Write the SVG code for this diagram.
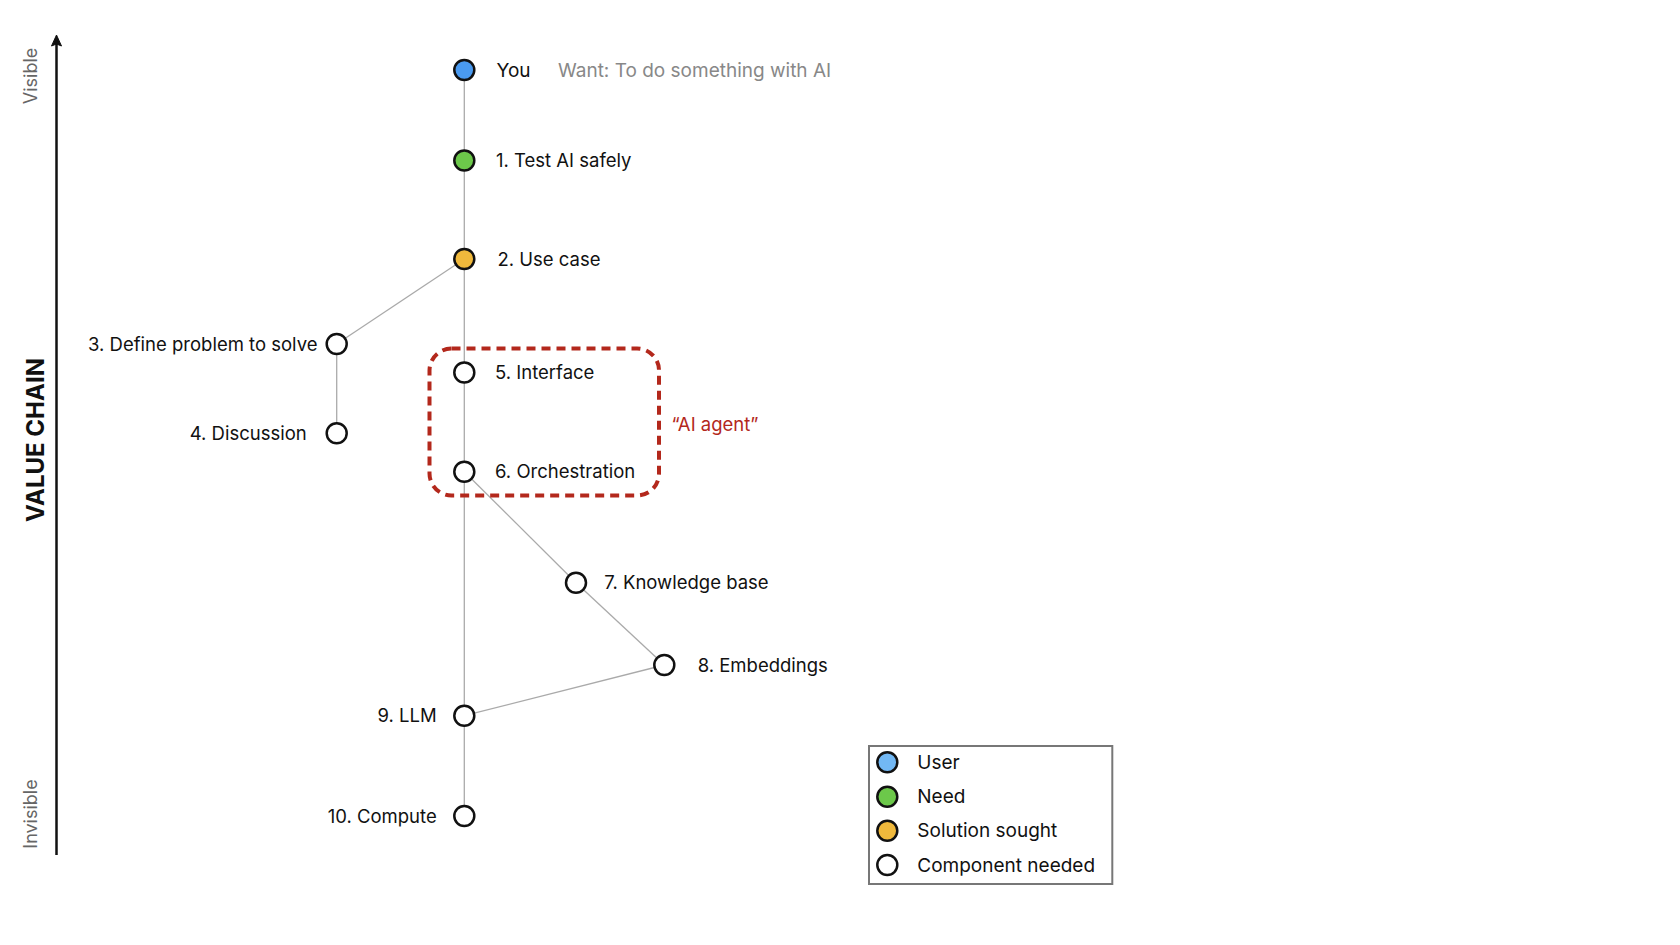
<svg xmlns="http://www.w3.org/2000/svg" width="1680" height="945" viewBox="0 0 1680 945">
<defs>
<style>
text{font-family:Inter,"Noto Sans","Liberation Sans",sans-serif;font-size:18.5px;fill:#111}
.gray{fill:#888;font-size:19px}
.leg{font-size:19px}
.axis{fill:#666;font-size:18px}
.node{stroke:#111;stroke-width:2.5;fill:#fff}
.conn{stroke:#aaa;stroke-width:1.3;fill:none}
.user{fill:#4a9af0}
.need{fill:#6cc84a}
.sol{fill:#f0b93c}
.luser{fill:#72b8f4}
</style>
</defs>
<rect width="1680" height="945" fill="#fff"/>
<g id="axis">
<line x1="56.5" y1="855" x2="56.5" y2="44" stroke="#111" stroke-width="2.5"/>
<path d="M56.5,35 L61.5,46 L56.5,44 L51.5,46 Z" fill="#111" stroke="#111" stroke-width="1"/>
<text class="axis" transform="translate(37,76) rotate(-90)" text-anchor="middle">Visible</text>
<text class="axis" transform="translate(37,814) rotate(-90)" text-anchor="middle">Invisible</text>
<text transform="translate(44,440) rotate(-90)" text-anchor="middle" style="font-weight:bold;font-size:24px">VALUE CHAIN</text>
</g>
<g id="connectors">
<line class="conn" x1="464.3" y1="70" x2="464.3" y2="816"/>
<line class="conn" x1="464.3" y1="259" x2="336.7" y2="344"/>
<line class="conn" x1="336.7" y1="344" x2="336.7" y2="433.3"/>
<line class="conn" x1="464.3" y1="471.7" x2="576" y2="582.7"/>
<line class="conn" x1="576" y1="582.7" x2="664.3" y2="665"/>
<line class="conn" x1="664.3" y1="665" x2="464.3" y2="715.7"/>
</g>
<g id="agent-group">
<rect x="429.5" y="348.5" width="229.5" height="147" rx="22" fill="none" stroke="#b3281c" stroke-width="4" stroke-dasharray="9,6"/>
<text x="671.5" y="431" style="fill:#b3281c">“AI agent”</text>
</g>
<g id="node-you">
<circle class="node user" cx="464.3" cy="70" r="10"/>
<text x="496.5" y="77" style="font-size:19px">You</text>
<text class="gray" x="558" y="77">Want: To do something with AI</text>
</g>
<g id="node-1">
<circle class="node need" cx="464.3" cy="160.5" r="10"/>
<text x="496" y="167">1. Test AI safely</text>
</g>
<g id="node-2">
<circle class="node sol" cx="464.3" cy="259" r="10"/>
<text x="497.5" y="265.5">2. Use case</text>
</g>
<g id="node-3">
<circle class="node" cx="336.7" cy="344" r="10"/>
<text x="317.5" y="350.5" text-anchor="end">3. Define problem to solve</text>
</g>
<g id="node-4">
<circle class="node" cx="336.7" cy="433.3" r="10"/>
<text x="306.7" y="440" text-anchor="end">4. Discussion</text>
</g>
<g id="node-5">
<circle class="node" cx="464.3" cy="372.5" r="10"/>
<text x="495" y="379">5. Interface</text>
</g>
<g id="node-6">
<circle class="node" cx="464.3" cy="471.7" r="10"/>
<text x="495" y="478">6. Orchestration</text>
</g>
<g id="node-7">
<circle class="node" cx="576" cy="582.7" r="10"/>
<text x="604.3" y="589">7. Knowledge base</text>
</g>
<g id="node-8">
<circle class="node" cx="664.3" cy="665" r="10"/>
<text x="697.7" y="671.5">8. Embeddings</text>
</g>
<g id="node-9">
<circle class="node" cx="464.3" cy="715.7" r="10"/>
<text x="436.7" y="722" text-anchor="end">9. LLM</text>
</g>
<g id="node-10">
<circle class="node" cx="464.3" cy="816" r="10"/>
<text x="436.7" y="822.5" text-anchor="end">10. Compute</text>
</g>
<g id="legend">
<rect x="869" y="746" width="243.3" height="138" fill="#fff" stroke="#777" stroke-width="2"/>
<circle class="node luser" cx="887.3" cy="762.3" r="10"/>
<text class="leg" x="917.3" y="768.8">User</text>
<circle class="node need" cx="887.3" cy="796.7" r="10"/>
<text class="leg" x="917.3" y="803.2">Need</text>
<circle class="node sol" cx="887.3" cy="830.7" r="10"/>
<text class="leg" x="917.3" y="837.2">Solution sought</text>
<circle class="node" cx="887.3" cy="865" r="10"/>
<text class="leg" x="917.3" y="871.5">Component needed</text>
</g>
</svg>
